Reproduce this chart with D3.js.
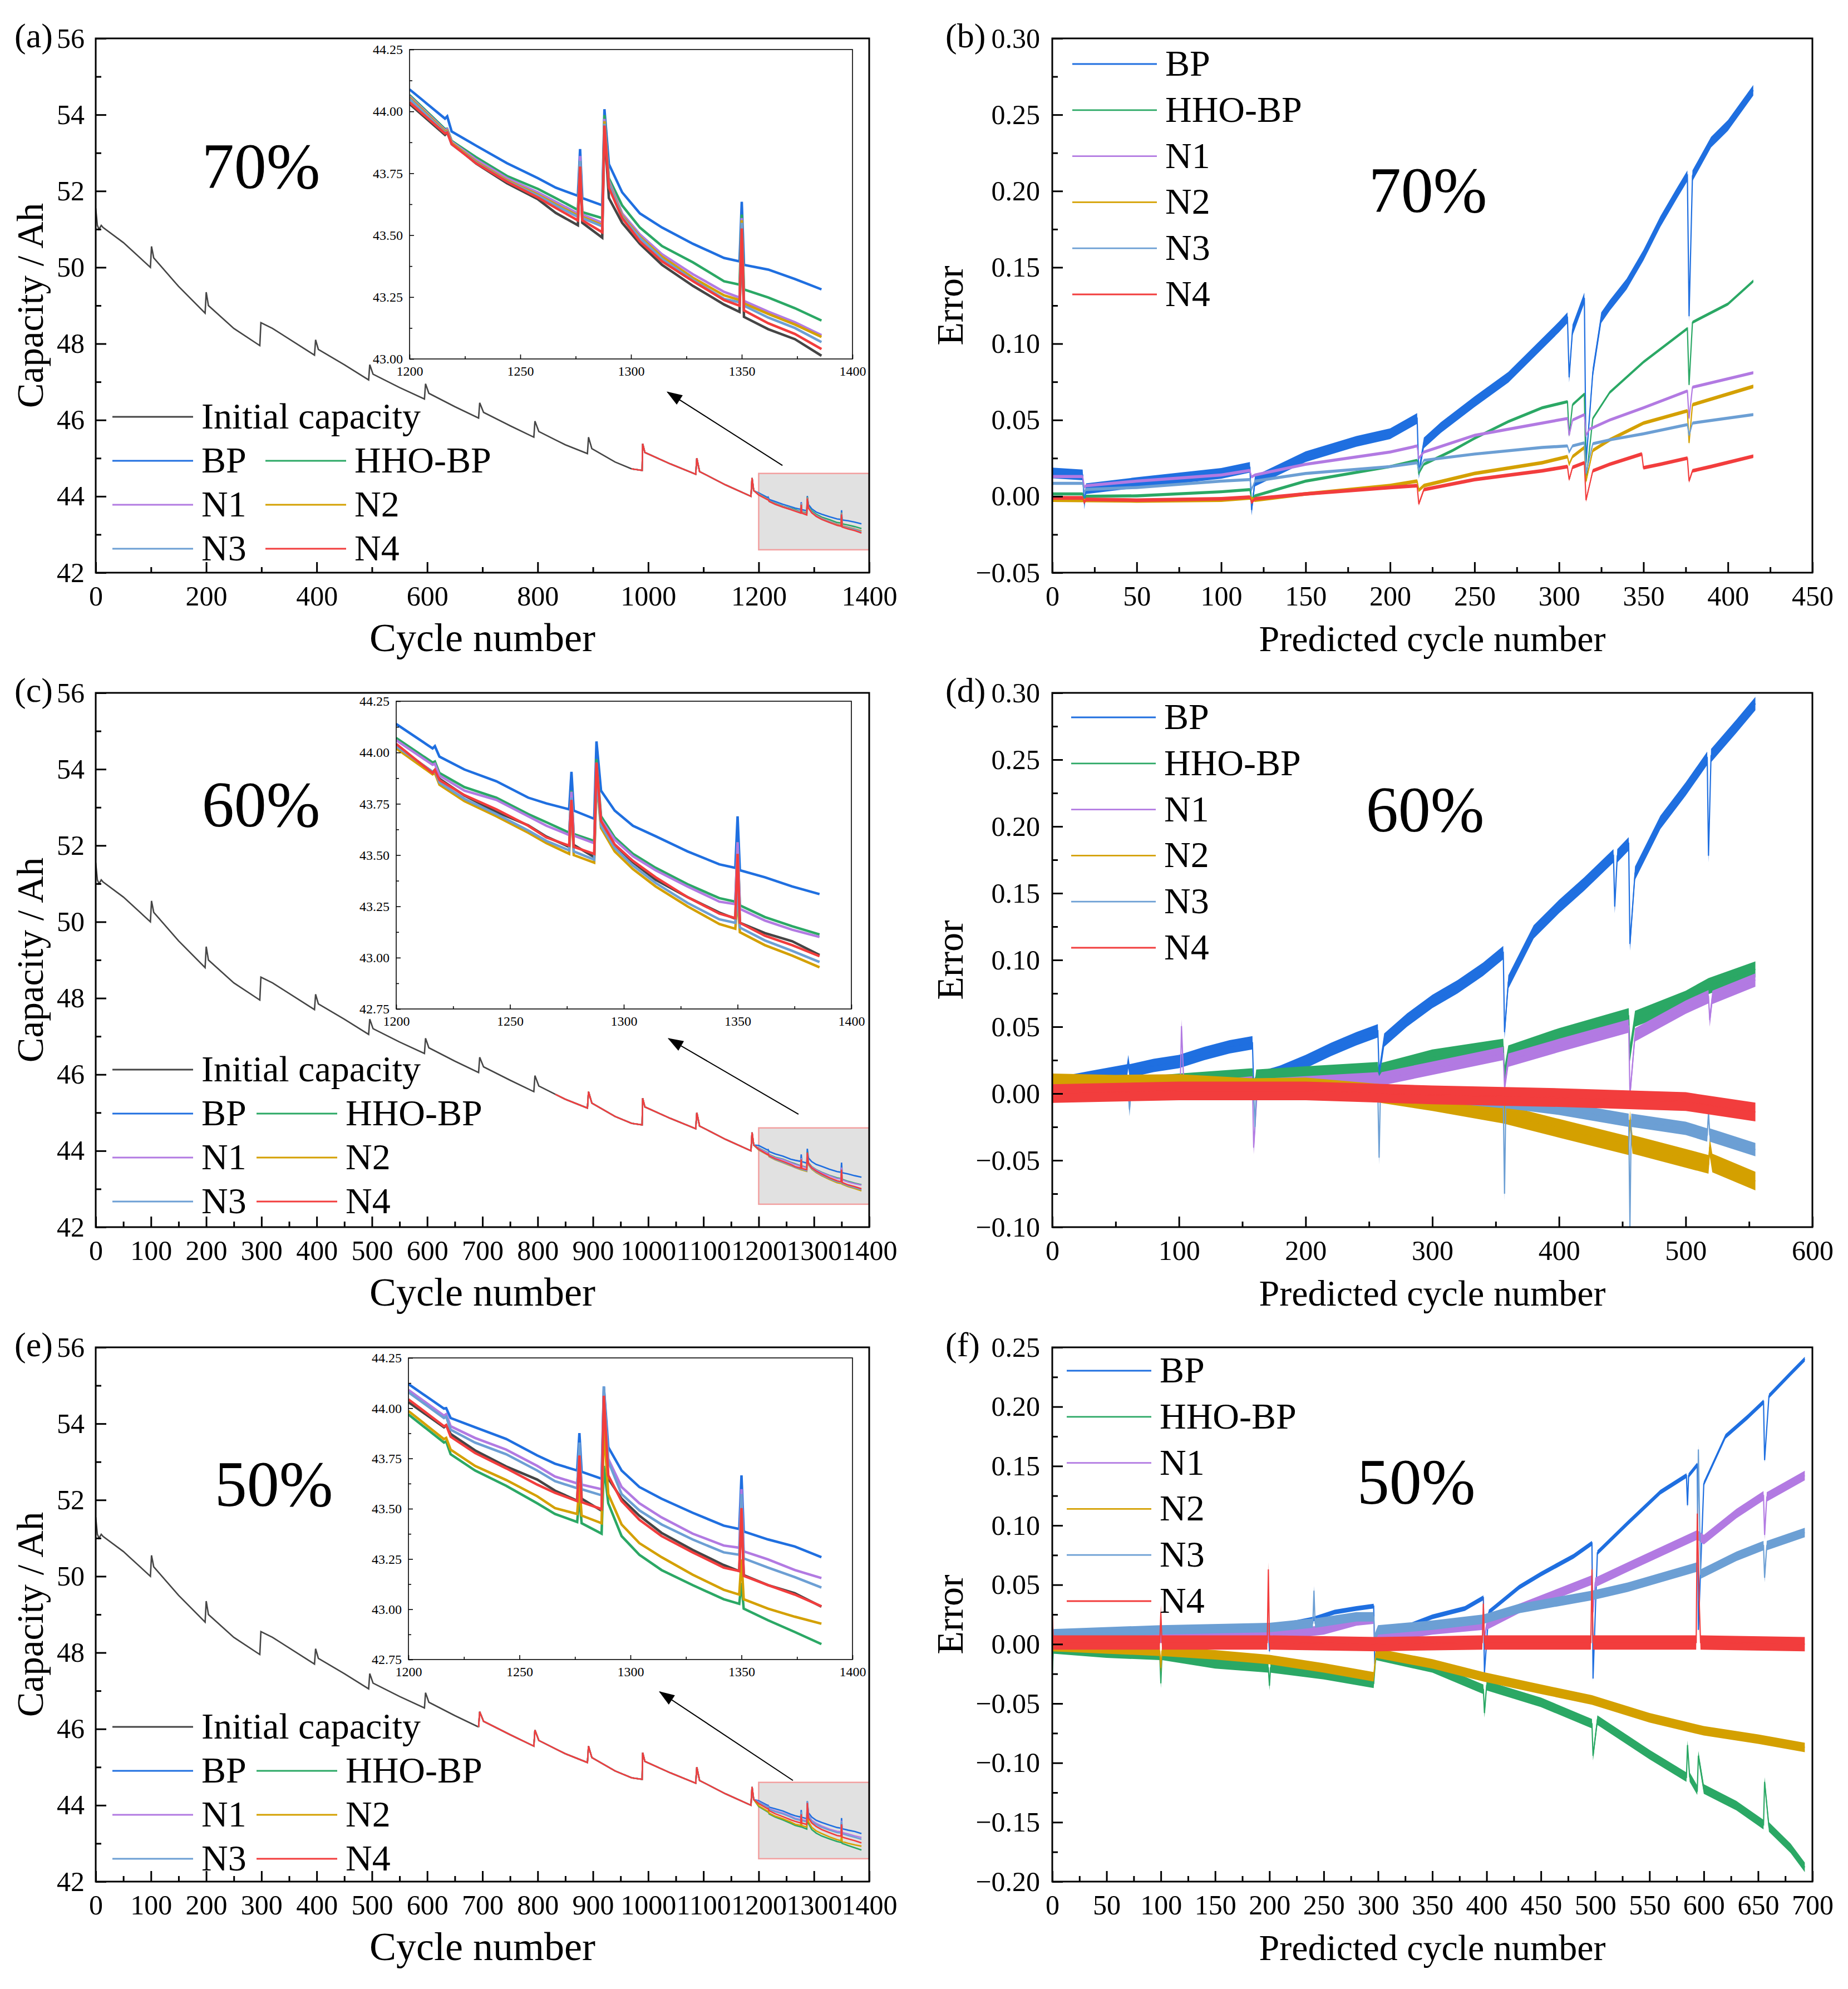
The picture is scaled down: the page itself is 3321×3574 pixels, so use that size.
<!DOCTYPE html>
<html>
<head>
<meta charset="utf-8">
<script src="https://cdnjs.cloudflare.com/ajax/libs/d3/7.8.5/d3.min.js"></script>
<style>
  body { margin: 0; background: #fff; }
  text { font-family: 'Liberation Serif', 'Times New Roman', Times, serif; }
</style>
</head>
<body>
<div id="chart"></div>
<script>
////////////////////////////////////////////////////////////
//////////////////////// Data //////////////////////////////
////////////////////////////////////////////////////////////

var seriesNames = ["BP", "HHO-BP", "N1", "N2", "N3", "N4"];
var seriesColors = ["#1f6fe0", "#2ba865", "#b27ae2", "#d4a000", "#6c9fd4", "#f23d3d"];
var initName = "Initial capacity";
var initColor = "#454545";

var trueCycles = [0, 3, 6, 10, 13, 50, 99, 101, 105, 150, 198, 200, 204, 250, 297, 299, 320, 396, 398, 403,
	450, 494, 496, 502, 550, 595, 597, 603, 650, 693, 695, 702, 750, 793, 795, 802, 832, 850, 890, 892,
	898, 940, 970, 989, 990, 994, 1040, 1086, 1088, 1093, 1140, 1186, 1188, 1191];
var trueCap = [51.55, 51.1, 51.0, 51.1, 51.05, 50.65, 50.0, 50.55, 50.25, 49.5, 48.8, 49.35, 49.0, 48.4, 47.95, 48.55, 48.4, 47.7, 48.1, 47.85,
	47.45, 47.05, 47.45, 47.2, 46.85, 46.55, 46.95, 46.7, 46.35, 46.05, 46.45, 46.2, 45.85, 45.55, 45.97, 45.7, 45.48, 45.35, 45.12, 45.55,
	45.25, 44.9, 44.72, 44.68, 45.38, 45.15, 44.85, 44.58, 45.0, 44.65, 44.3, 44.0, 44.48, 44.15];

//zoomed part 1200-1386
var insetCycles = [1200, 1216, 1217, 1219, 1230, 1244, 1258, 1266, 1276, 1277, 1278, 1287, 1288, 1290, 1296, 1304, 1314, 1328, 1342, 1349, 1350, 1351, 1362, 1374, 1386];
var insetTrue = [44.03, 43.905, 43.915, 43.872, 43.79, 43.71, 43.645, 43.59, 43.54, 43.77, 43.55, 43.49, 43.93, 43.65, 43.55, 43.465, 43.38, 43.295, 43.22, 43.19, 43.52, 43.17, 43.12, 43.08, 43.013];

//70 % training (BP, HHO-BP, N1, N2, N3, N4)
var insetA = [
	[44.089, 43.971, 43.98, 43.919, 43.862, 43.791, 43.73, 43.692, 43.659, 43.848, 43.65, 43.621, 44.009, 43.787, 43.673, 43.588, 43.531, 43.465, 43.408, 43.394, 43.635, 43.38, 43.361, 43.323, 43.281],
	[44.066, 43.929, 43.93, 43.881, 43.815, 43.739, 43.687, 43.65, 43.602, 43.815, 43.593, 43.569, 43.985, 43.73, 43.62, 43.531, 43.456, 43.39, 43.314, 43.30, 43.583, 43.281, 43.248, 43.205, 43.155],
	[44.061, 43.924, 43.928, 43.877, 43.806, 43.73, 43.673, 43.635, 43.588, 43.82, 43.583, 43.55, 43.97, 43.72, 43.588, 43.503, 43.423, 43.342, 43.271, 43.248, 43.569, 43.234, 43.191, 43.148, 43.096],
	[44.056, 43.919, 43.922, 43.872, 43.798, 43.722, 43.664, 43.625, 43.579, 43.8, 43.574, 43.541, 43.96, 43.711, 43.579, 43.494, 43.413, 43.328, 43.257, 43.238, 43.56, 43.224, 43.182, 43.139, 43.089],
	[44.051, 43.914, 43.918, 43.867, 43.794, 43.718, 43.659, 43.62, 43.574, 43.8, 43.569, 43.536, 43.95, 43.706, 43.574, 43.489, 43.404, 43.319, 43.243, 43.229, 43.55, 43.215, 43.167, 43.125, 43.068],
	[44.037, 43.911, 43.915, 43.868, 43.791, 43.716, 43.652, 43.61, 43.56, 43.777, 43.56, 43.512, 43.943, 43.692, 43.569, 43.475, 43.394, 43.314, 43.238, 43.215, 43.527, 43.196, 43.144, 43.101, 43.04]
];
//60 % training
var insetC = [
	[44.139, 44.02, 44.031, 43.98, 43.917, 43.86, 43.78, 43.752, 43.723, 43.906, 43.717, 43.677, 44.054, 43.814, 43.717, 43.643, 43.592, 43.518, 43.455, 43.438, 43.689, 43.426, 43.392, 43.347, 43.31],
	[44.071, 43.951, 43.956, 43.90, 43.831, 43.78, 43.70, 43.66, 43.609, 43.814, 43.603, 43.569, 43.968, 43.689, 43.586, 43.506, 43.438, 43.358, 43.29, 43.273, 43.563, 43.255, 43.198, 43.153, 43.113],
	[44.06, 43.94, 43.945, 43.888, 43.814, 43.769, 43.689, 43.643, 43.598, 43.809, 43.595, 43.558, 43.951, 43.672, 43.575, 43.495, 43.426, 43.347, 43.273, 43.261, 43.563, 43.238, 43.181, 43.136, 43.101],
	[44.02, 43.894, 43.90, 43.843, 43.763, 43.689, 43.609, 43.558, 43.506, 43.757, 43.5, 43.463, 43.86, 43.632, 43.518, 43.432, 43.347, 43.25, 43.164, 43.141, 43.29, 43.124, 43.061, 43.01, 42.953],
	[44.031, 43.906, 43.912, 43.854, 43.774, 43.70, 43.62, 43.569, 43.523, 43.78, 43.518, 43.478, 43.883, 43.643, 43.535, 43.449, 43.364, 43.267, 43.187, 43.17, 43.335, 43.147, 43.084, 43.033, 42.979],
	[44.042, 43.90, 43.915, 43.866, 43.792, 43.723, 43.643, 43.586, 43.546, 43.769, 43.54, 43.506, 43.951, 43.666, 43.552, 43.472, 43.392, 43.295, 43.215, 43.193, 43.506, 43.17, 43.107, 43.061, 43.007]
];
//50 % training
var insetE = [
	[44.12, 43.998, 44.0, 43.951, 43.905, 43.847, 43.765, 43.724, 43.69, 43.876, 43.684, 43.649, 44.108, 43.806, 43.69, 43.608, 43.55, 43.48, 43.416, 43.399, 43.666, 43.387, 43.347, 43.312, 43.259],
	[43.969, 43.829, 43.835, 43.771, 43.69, 43.614, 43.527, 43.474, 43.434, 43.562, 43.428, 43.376, 43.713, 43.527, 43.364, 43.271, 43.195, 43.12, 43.05, 43.027, 43.131, 43.003, 42.945, 42.887, 42.827],
	[44.091, 43.963, 43.97, 43.91, 43.852, 43.794, 43.713, 43.66, 43.626, 43.771, 43.62, 43.597, 44.085, 43.748, 43.608, 43.527, 43.457, 43.376, 43.317, 43.306, 43.597, 43.288, 43.248, 43.195, 43.155],
	[43.986, 43.846, 43.852, 43.794, 43.713, 43.643, 43.562, 43.503, 43.474, 43.62, 43.466, 43.428, 43.91, 43.573, 43.422, 43.329, 43.259, 43.172, 43.097, 43.073, 43.248, 43.05, 43.003, 42.963, 42.928],
	[44.079, 43.951, 43.958, 43.893, 43.829, 43.771, 43.69, 43.637, 43.602, 43.829, 43.597, 43.567, 44.108, 43.736, 43.573, 43.492, 43.422, 43.347, 43.283, 43.271, 43.573, 43.253, 43.207, 43.16, 43.108],
	[44.044, 43.91, 43.916, 43.858, 43.777, 43.701, 43.62, 43.579, 43.538, 43.765, 43.533, 43.498, 44.062, 43.666, 43.538, 43.445, 43.364, 43.283, 43.207, 43.19, 43.503, 43.166, 43.12, 43.073, 43.015]
];

//prediction error vs predicted cycle: [cycle, error]
var errB = [
	[[0,0.0153],[18,0.014],[19,-0.005],[20,0.005],[50,0.009],[100,0.015],[117,0.019],[118,-0.009],[120,0.01],[150,0.026],[180,0.036],[200,0.041],[216,0.051],[217,0.015],[220,0.035],[230,0.045],[250,0.062],[270,0.078],[290,0.10],[300,0.111],[305,0.117],[306,0.078],[308,0.109],[315,0.13],[316,0.022],[320,0.081],[325,0.117],[330,0.125],[340,0.139],[350,0.158],[360,0.18],[370,0.199],[376,0.21],[377,0.118],[379,0.21],[390,0.232],[400,0.243],[415,0.266]],
	[[0,0.0016],[18,0.0016],[19,-0.004],[20,0],[50,0.0003],[100,0.003],[117,0.0044],[118,-0.002],[120,0.0003],[150,0.01],[200,0.0195],[216,0.0236],[217,0.015],[220,0.021],[237,0.03],[250,0.038],[270,0.049],[290,0.058],[305,0.062],[306,0.04],[308,0.06],[315,0.067],[316,0.01],[320,0.051],[330,0.068],[350,0.088],[376,0.11],[377,0.073],[379,0.114],[400,0.126],[415,0.141]],
	[[0,0.013],[18,0.013],[19,0.006],[20,0.007],[50,0.01],[100,0.014],[117,0.017],[118,0.0127],[120,0.014],[150,0.021],[200,0.029],[216,0.033],[217,0.025],[220,0.029],[250,0.04],[290,0.048],[305,0.051],[306,0.04],[308,0.05],[315,0.0535],[316,0.04],[318,0.044],[330,0.05],[350,0.058],[376,0.069],[377,0.051],[379,0.0715],[415,0.081]],
	[[0,-0.0025],[50,-0.003],[100,-0.0025],[117,-0.001],[120,-0.0025],[150,0.0016],[200,0.007],[216,0.01],[217,0.004],[220,0.007],[250,0.015],[290,0.022],[305,0.026],[306,0.021],[308,0.026],[315,0.032],[316,0.01],[320,0.03],[330,0.037],[350,0.048],[376,0.056],[377,0.035],[379,0.06],[415,0.072]],
	[[0,0.0085],[18,0.0085],[19,0.003],[20,0.0045],[50,0.0058],[100,0.01],[117,0.011],[118,0.0045],[120,0.01],[150,0.015],[200,0.0195],[216,0.022],[217,0.017],[220,0.0236],[250,0.0277],[290,0.032],[305,0.033],[306,0.029],[308,0.033],[315,0.035],[316,0.015],[320,0.0345],[330,0.037],[350,0.041],[376,0.047],[377,0.04],[379,0.048],[415,0.0535]],
	[[0,-0.001],[18,-0.001],[19,-0.004],[20,-0.002],[50,-0.0025],[100,-0.0016],[117,-0.0005],[118,-0.004],[120,-0.0016],[150,0.0016],[200,0.0058],[216,0.007],[217,-0.005],[220,0.0044],[250,0.011],[290,0.0167],[305,0.0195],[306,0.011],[308,0.019],[315,0.022],[316,-0.0025],[320,0.0167],[330,0.021],[349,0.0277],[350,0.0187],[360,0.021],[376,0.025],[377,0.01],[379,0.0167],[390,0.0195],[415,0.0263]]
];
var errD = [
	[[0,0.0066],[30,0.012],[59,0.017],[60,0.024],[61,0.017],[80,0.021],[100,0.024],[120,0.03],[140,0.035],[158,0.038],[159,0.005],[162,0.011],[180,0.016],[200,0.024],[220,0.033],[240,0.041],[257,0.047],[258,0.0144],[262,0.04],[280,0.055],[300,0.069],[320,0.08],[340,0.093],[356,0.1055],[357,0.046],[360,0.0835],[380,0.121],[400,0.14],[420,0.157],[443,0.178],[444,0.14],[446,0.178],[455,0.187],[456,0.112],[460,0.165],[480,0.203],[500,0.228],[517,0.251],[518,0.178],[520,0.253],[540,0.275],[555,0.292]],
	[[0,0.005],[50,0.005],[100,0.009],[158,0.013],[159,-0.004],[161,0.012],[200,0.0144],[257,0.0176],[258,0.0066],[260,0.017],[300,0.027],[356,0.035],[357,0.0144],[360,0.03],[400,0.043],[455,0.058],[456,0.03],[460,0.056],[500,0.071],[518,0.0805],[555,0.093]],
	[[0,-0.001],[50,0.0005],[101,0.003],[102,0.0505],[104,0.003],[158,0.008],[159,-0.0405],[162,0.006],[200,0.008],[257,0.011],[258,0.008],[260,0.011],[300,0.019],[356,0.03],[357,0.005],[360,0.025],[400,0.036],[455,0.0505],[456,-0.001],[460,0.044],[500,0.0647],[518,0.0725],[519,0.055],[521,0.072],[555,0.085]],
	[[0,0.008],[50,0.007],[100,0.0075],[158,0.0045],[200,0.005],[257,0.0003],[300,-0.006],[356,-0.0154],[400,-0.026],[455,-0.039],[456,-0.02],[458,-0.038],[500,-0.0485],[518,-0.053],[519,-0.04],[521,-0.052],[555,-0.0655]],
	[[0,0.002],[60,0.0005],[61,-0.012],[62,0.0005],[100,0.002],[159,0.001],[160,-0.025],[161,0.001],[200,0.002],[257,0],[258,-0.048],[259,0],[300,-0.001],[356,-0.006],[357,-0.075],[358,-0.006],[400,-0.011],[455,-0.02],[456,-0.10],[457,-0.02],[500,-0.026],[517,-0.031],[518,-0.014],[519,-0.031],[555,-0.042]],
	[[0,0],[100,0.002],[200,0.002],[300,-0.001],[400,-0.003],[500,-0.006],[555,-0.0138]]
];
var errF = [
	[[0,0.005],[50,0.007],[100,0.0087],[150,0.012],[199,0.014],[200,-0.006],[201,0.014],[240,0.021],[260,0.027],[280,0.03],[296,0.032],[297,-0.017],[300,0.005],[330,0.016],[350,0.023],[380,0.03],[397,0.039],[398,-0.024],[402,0.027],[430,0.048],[450,0.059],[480,0.074],[497,0.085],[498,-0.029],[502,0.077],[530,0.102],[560,0.128],[584,0.142],[585,0.117],[586,0.142],[594,0.151],[595,0.012],[600,0.135],[620,0.175],[640,0.191],[655,0.204],[656,0.155],[660,0.209],[680,0.228],[693,0.24]],
	[[0,-0.024],[1,-0.004],[50,-0.0076],[99,-0.0094],[100,-0.033],[101,-0.0094],[150,-0.0166],[199,-0.02],[200,-0.035],[201,-0.02],[250,-0.0257],[296,-0.033],[298,-0.0094],[350,-0.02],[397,-0.038],[398,-0.058],[400,-0.035],[450,-0.049],[497,-0.067],[498,-0.094],[502,-0.064],[550,-0.093],[584,-0.112],[585,-0.085],[587,-0.112],[594,-0.123],[595,-0.094],[600,-0.122],[630,-0.136],[655,-0.152],[656,-0.116],[660,-0.154],[680,-0.172],[693,-0.188]],
	[[0,0.003],[100,0.005],[200,0.007],[250,0.012],[280,0.0195],[296,0.021],[297,0.001],[300,0.005],[350,0.012],[397,0.016],[398,0.005],[400,0.016],[430,0.03],[497,0.054],[498,0.027],[500,0.052],[530,0.065],[594,0.092],[600,0.088],[630,0.11],[655,0.125],[656,0.092],[658,0.124],[693,0.142]],
	[[0,-0.002],[99,-0.006],[100,-0.02],[101,-0.006],[150,-0.009],[200,-0.013],[250,-0.02],[296,-0.0275],[298,-0.0076],[350,-0.0166],[397,-0.0275],[450,-0.038],[497,-0.047],[550,-0.062],[600,-0.073],[650,-0.08],[693,-0.087]],
	[[0,0.0087],[100,0.012],[200,0.014],[240,0.0177],[241,0.045],[242,0.0177],[280,0.023],[296,0.023],[297,0.005],[300,0.012],[350,0.016],[397,0.021],[430,0.03],[497,0.041],[530,0.048],[594,0.065],[595,0.164],[597,0.059],[630,0.074],[655,0.083],[656,0.056],[658,0.083],[693,0.094]],
	[[0,0.027],[1,0.0014],[99,0.0014],[100,0.027],[101,0.0014],[198,0.0014],[199,0.063],[200,0.0014],[300,0],[396,0.0014],[397,0.034],[398,0.0014],[496,0.0014],[497,0.063],[498,0.0014],[593,0.0014],[594,0.11],[596,0.03],[597,0.0014],[693,0]]
];
//half width of the noise band of every error curve
var noiseB = [0.0035, 0.001, 0.001, 0.0012, 0.001, 0.0012];
var noiseD = [0.005, 0.006, 0.005, 0.007, 0.005, 0.007];
var noiseF = [0.002, 0.004, 0.004, 0.004, 0.004, 0.006];

//zoom box [x0, x1, y0, y1] and arrows [from, to]
var zoomBox = [1200, 1400, 42.6, 44.6];
var arrowA = [[1243, 44.81], [1035, 46.73]];
var arrowC = [[1272, 44.96], [1037, 46.94]];
var arrowE = [[1262, 44.65], [1021, 46.97]];

//ticks
var capYTicks = [42, 44, 46, 48, 50, 52, 54, 56];
var capXTicksA = [0, 200, 400, 600, 800, 1000, 1200, 1400];
var capXTicksCE = [0, 100, 200, 300, 400, 500, 600, 700, 800, 900, 1000, 1100, 1200, 1300, 1400];
var insetXTicks = [1200, 1250, 1300, 1350, 1400];
var insetYTicksA = [43.00, 43.25, 43.50, 43.75, 44.00, 44.25];
var insetYTicksCE = [42.75, 43.00, 43.25, 43.50, 43.75, 44.00, 44.25];
var errXTicksB = [0, 50, 100, 150, 200, 250, 300, 350, 400, 450];
var errXTicksD = [0, 100, 200, 300, 400, 500, 600];
var errXTicksF = [0, 50, 100, 150, 200, 250, 300, 350, 400, 450, 500, 550, 600, 650, 700];
var errYTicksB = [-0.05, 0, 0.05, 0.10, 0.15, 0.20, 0.25, 0.30];
var errYTicksD = [-0.10, -0.05, 0, 0.05, 0.10, 0.15, 0.20, 0.25, 0.30];
var errYTicksF = [-0.20, -0.15, -0.10, -0.05, 0, 0.05, 0.10, 0.15, 0.20, 0.25];

////////////////////////////////////////////////////////////
//////////////////////// Set-up ////////////////////////////
////////////////////////////////////////////////////////////

var W = 3321, H = 3574;
var FONT = "'Liberation Serif', 'Times New Roman', Times, serif";
var capLeft = 172, capW = 1390,
	errLeft = 1891, errW = 1366,
	panelH = 960,
	rowTops = [69, 1245, 2421];

var svg = d3.select("#chart").append("svg")
	.attr("width", W)
	.attr("height", H);
svg.append("rect").attr("width", W).attr("height", H).attr("fill", "#fff");

var defs = svg.append("defs");
defs.append("marker")
	.attr("id", "arrowhead")
	.attr("viewBox", "0 0 14 10")
	.attr("refX", 13).attr("refY", 5)
	.attr("markerWidth", 30).attr("markerHeight", 20)
	.attr("markerUnits", "userSpaceOnUse")
	.attr("orient", "auto")
  .append("path")
	.attr("d", "M0,0 L14,5 L0,10 z")
	.attr("fill", "#000");

function midpoints(arr) {
	return arr.slice(1).map(function(v, i) { return (v + arr[i]) / 2; });
}

//axes with inward ticks and a closed frame
function drawFrame(g, x, y, w, h, xt, yt, o) {
	var big = o.big, small = o.small;
	g.append("g")
		.attr("transform", "translate(0," + h + ")")
		.call(d3.axisBottom(x).tickValues(midpoints(xt)).tickSize(-small).tickSizeOuter(0).tickFormat(""))
		.call(function(s) { s.select(".domain").remove(); });
	g.append("g")
		.attr("transform", "translate(0," + h + ")")
		.call(d3.axisBottom(x).tickValues(xt).tickSize(-big).tickSizeOuter(0).tickPadding(o.xPad).tickFormat(o.xFmt))
		.call(function(s) { s.select(".domain").remove(); });
	g.append("g")
		.call(d3.axisLeft(y).tickValues(midpoints(yt)).tickSize(-small).tickSizeOuter(0).tickFormat(""))
		.call(function(s) { s.select(".domain").remove(); });
	g.append("g")
		.call(d3.axisLeft(y).tickValues(yt).tickSize(-big).tickSizeOuter(0).tickPadding(o.yPad).tickFormat(o.yFmt))
		.call(function(s) { s.select(".domain").remove(); });

	g.selectAll(".tick line").attr("stroke", "#000").attr("stroke-width", o.sw);
	g.selectAll(".tick text")
		.attr("fill", "#000")
		.style("font-family", FONT)
		.style("font-size", o.fs + "px");

	g.append("rect")
		.attr("width", w).attr("height", h)
		.attr("fill", "none")
		.attr("stroke", "#000")
		.attr("stroke-width", o.sw);
}

////////////////////////////////////////////////////////////
///////////////////// Capacity panels //////////////////////
////////////////////////////////////////////////////////////

function capacityPanel(p) {
	var g = svg.append("g").attr("transform", "translate(" + capLeft + "," + p.top + ")");
	var x = d3.scaleLinear().domain([0, 1400]).range([0, capW]);
	var y = d3.scaleLinear().domain([42, 56]).range([panelH, 0]);
	var line = d3.line().x(function(d) { return x(d[0]); }).y(function(d) { return y(d[1]); });

	g.append("clipPath").attr("id", "clip-" + p.id)
	  .append("rect").attr("width", capW).attr("height", panelH);
	var plot = g.append("g").attr("clip-path", "url(#clip-" + p.id + ")");

	//zoom box
	plot.append("rect")
		.attr("x", x(zoomBox[0]))
		.attr("y", y(zoomBox[3]))
		.attr("width", x(zoomBox[1]) - x(zoomBox[0]))
		.attr("height", y(zoomBox[2]) - y(zoomBox[3]))
		.attr("fill", "#e1e1e1")
		.attr("stroke", "#f2a0a0")
		.attr("stroke-width", 2.5);

	var truePts = trueCycles.map(function(c, i) { return [c, trueCap[i]]; });

	//initial capacity up to the start of prediction
	plot.append("path")
		.attr("d", line(truePts.filter(function(d) { return d[0] <= p.split; })))
		.attr("fill", "none")
		.attr("stroke", initColor)
		.attr("stroke-width", 2.6);

	//predicted curves
	var before = truePts.filter(function(d) { return d[0] >= p.split; });
	p.inset.forEach(function(vals, k) {
		var pts = before.concat(insetCycles.map(function(c, i) { return [c, vals[i]]; }));
		plot.append("path")
			.attr("d", line(pts))
			.attr("fill", "none")
			.attr("stroke", seriesColors[k])
			.attr("stroke-width", 2.6);
	});

	drawFrame(g, x, y, capW, panelH, p.xTicks, capYTicks,
		{big: 19, small: 10, sw: 3, fs: 50, xPad: 23, yPad: 20,
		 xFmt: d3.format("d"), yFmt: d3.format("d")});

	//arrow towards the inset
	g.append("line")
		.attr("x1", x(p.arrow[0][0])).attr("y1", y(p.arrow[0][1]))
		.attr("x2", x(p.arrow[1][0])).attr("y2", y(p.arrow[1][1]))
		.attr("stroke", "#000")
		.attr("stroke-width", 2)
		.attr("marker-end", "url(#arrowhead)");

	//inset
	var ib = p.insetBox;
	var iw = ib[2] - ib[0], ih = ib[3] - ib[1];
	var ig = svg.append("g").attr("transform", "translate(" + ib[0] + "," + ib[1] + ")");
	var ix = d3.scaleLinear().domain([1200, 1400]).range([0, iw]);
	var iy = d3.scaleLinear().domain(p.insetY).range([ih, 0]);
	var iline = d3.line().x(function(d) { return ix(d[0]); }).y(function(d) { return iy(d[1]); });
	ig.append("rect").attr("width", iw).attr("height", ih).attr("fill", "#fff");
	ig.append("clipPath").attr("id", "iclip-" + p.id)
	  .append("rect").attr("width", iw).attr("height", ih);
	var iplot = ig.append("g").attr("clip-path", "url(#iclip-" + p.id + ")");

	iplot.append("path")
		.attr("d", iline(insetCycles.map(function(c, i) { return [c, insetTrue[i]]; })))
		.attr("fill", "none")
		.attr("stroke", initColor)
		.attr("stroke-width", 4.5);
	p.inset.forEach(function(vals, k) {
		iplot.append("path")
			.attr("d", iline(insetCycles.map(function(c, i) { return [c, vals[i]]; })))
			.attr("fill", "none")
			.attr("stroke", seriesColors[k])
			.attr("stroke-width", 4.5);
	});

	drawFrame(ig, ix, iy, iw, ih, insetXTicks, p.insetY[0] < 43 ? insetYTicksCE : insetYTicksA,
		{big: 8, small: 5, sw: 1.6, fs: 24, xPad: 13, yPad: 12,
		 xFmt: d3.format("d"), yFmt: d3.format(".2f")});

	//legend
	var rowH = 79;
	var items = [
		{name: initName, color: initColor, col: 0, row: 0},
		{name: seriesNames[0], color: seriesColors[0], col: 0, row: 1},
		{name: seriesNames[1], color: seriesColors[1], col: 1, row: 1},
		{name: seriesNames[2], color: seriesColors[2], col: 0, row: 2},
		{name: seriesNames[3], color: seriesColors[3], col: 1, row: 2},
		{name: seriesNames[4], color: seriesColors[4], col: 0, row: 3},
		{name: seriesNames[5], color: seriesColors[5], col: 1, row: 3}
	];
	var colX = [30, p.col2];
	var leg = g.selectAll(".leg").data(items).enter().append("g")
		.attr("transform", function(d) { return "translate(" + colX[d.col] + "," + (p.legendTop + d.row * rowH) + ")"; });
	leg.append("line")
		.attr("x1", 0).attr("x2", 145)
		.attr("stroke", function(d) { return d.color; })
		.attr("stroke-width", 2.8);
	leg.append("text")
		.attr("x", 160).attr("y", 21)
		.style("font-size", "66px")
		.text(function(d) { return d.name; });

	//texts
	g.append("text")
		.attr("x", p.pct[0]).attr("y", p.pct[1])
		.attr("text-anchor", "middle")
		.style("font-size", "116px")
		.text(p.pctText);
	g.append("text")
		.attr("x", capW / 2).attr("y", panelH + 141)
		.attr("text-anchor", "middle")
		.style("font-size", "72px")
		.text("Cycle number");
	svg.append("text")
		.attr("transform", "translate(77," + (p.top + panelH / 2) + ") rotate(-90)")
		.attr("text-anchor", "middle")
		.style("font-size", "67px")
		.text("Capacity / Ah");
	svg.append("text")
		.attr("x", 26).attr("y", p.top + 16)
		.style("font-size", "62px")
		.text(p.label);
}

////////////////////////////////////////////////////////////
////////////////////// Error panels ////////////////////////
////////////////////////////////////////////////////////////

function errorPanel(p) {
	var g = svg.append("g").attr("transform", "translate(" + errLeft + "," + p.top + ")");
	var x = d3.scaleLinear().domain([0, p.xTicks[p.xTicks.length - 1]]).range([0, errW]);
	var y = d3.scaleLinear().domain([p.yTicks[0], p.yTicks[p.yTicks.length - 1]]).range([panelH, 0]);
	var line = d3.line().x(function(d) { return x(d[0]); }).y(function(d) { return y(d[1]); });

	g.append("clipPath").attr("id", "clip-" + p.id)
	  .append("rect").attr("width", errW).attr("height", panelH);
	var plot = g.append("g").attr("clip-path", "url(#clip-" + p.id + ")");

	p.data.forEach(function(pts, k) {
		var a = p.noise[k];
		var band = d3.area()
			.x(function(d) { return x(d[0]); })
			.y0(function(d) { return y(d[1] - a); })
			.y1(function(d) { return y(d[1] + a); });
		plot.append("path")
			.attr("d", band(pts))
			.attr("fill", seriesColors[k]);
		plot.append("path")
			.attr("d", line(pts))
			.attr("fill", "none")
			.attr("stroke", seriesColors[k])
			.attr("stroke-width", 2.2);
	});

	drawFrame(g, x, y, errW, panelH, p.xTicks, p.yTicks,
		{big: 19, small: 10, sw: 3, fs: 50, xPad: 23, yPad: 22,
		 xFmt: d3.format("d"), yFmt: d3.format(".2f")});

	var leg = g.selectAll(".leg").data(seriesNames).enter().append("g")
		.attr("transform", function(d, i) { return "translate(" + p.legendX + "," + (p.legendTop + i * 82.8) + ")"; });
	leg.append("line")
		.attr("x1", 0).attr("x2", 152)
		.attr("stroke", function(d, i) { return seriesColors[i]; })
		.attr("stroke-width", 2.8);
	leg.append("text")
		.attr("x", 167).attr("y", 21)
		.style("font-size", "66px")
		.text(function(d) { return d; });

	g.append("text")
		.attr("x", p.pct[0]).attr("y", p.pct[1])
		.attr("text-anchor", "middle")
		.style("font-size", "116px")
		.text(p.pctText);
	g.append("text")
		.attr("x", errW / 2).attr("y", panelH + 141)
		.attr("text-anchor", "middle")
		.style("font-size", "66px")
		.text("Predicted cycle number");
	svg.append("text")
		.attr("transform", "translate(1730," + (p.top + panelH / 2) + ") rotate(-90)")
		.attr("text-anchor", "middle")
		.style("font-size", "68px")
		.text("Error");
	svg.append("text")
		.attr("x", 1699).attr("y", p.top + 16)
		.style("font-size", "62px")
		.text(p.label);
}

////////////////////////////////////////////////////////////
///////////////////////// Draw /////////////////////////////
////////////////////////////////////////////////////////////

capacityPanel({id: "a", label: "(a)", top: rowTops[0], split: 970, inset: insetA, xTicks: capXTicksA,
	insetBox: [736, 89, 1532, 645], insetY: [43.00, 44.25], arrow: arrowA,
	legendTop: 680, col2: 305, pct: [297, 269], pctText: "70%"});
capacityPanel({id: "c", label: "(c)", top: rowTops[1], split: 832, inset: insetC, xTicks: capXTicksCE,
	insetBox: [712, 1260, 1530, 1813], insetY: [42.75, 44.25], arrow: arrowC,
	legendTop: 677, col2: 289, pct: [297, 240], pctText: "60%"});
capacityPanel({id: "e", label: "(e)", top: rowTops[2], split: 693, inset: insetE, xTicks: capXTicksCE,
	insetBox: [734, 2440, 1532, 2982], insetY: [42.75, 44.25], arrow: arrowE,
	legendTop: 682, col2: 289, pct: [320, 285], pctText: "50%"});

errorPanel({id: "b", label: "(b)", top: rowTops[0], data: errB, noise: noiseB, xTicks: errXTicksB, yTicks: errYTicksB,
	legendX: 36, legendTop: 46, pct: [675, 312], pctText: "70%"});
errorPanel({id: "d", label: "(d)", top: rowTops[1], data: errD, noise: noiseD, xTicks: errXTicksD, yTicks: errYTicksD,
	legendX: 34, legendTop: 44, pct: [670, 249], pctText: "60%"});
errorPanel({id: "f", label: "(f)", top: rowTops[2], data: errF, noise: noiseF, xTicks: errXTicksF, yTicks: errYTicksF,
	legendX: 26, legendTop: 42, pct: [654, 281], pctText: "50%"});
</script>
</body>
</html>
